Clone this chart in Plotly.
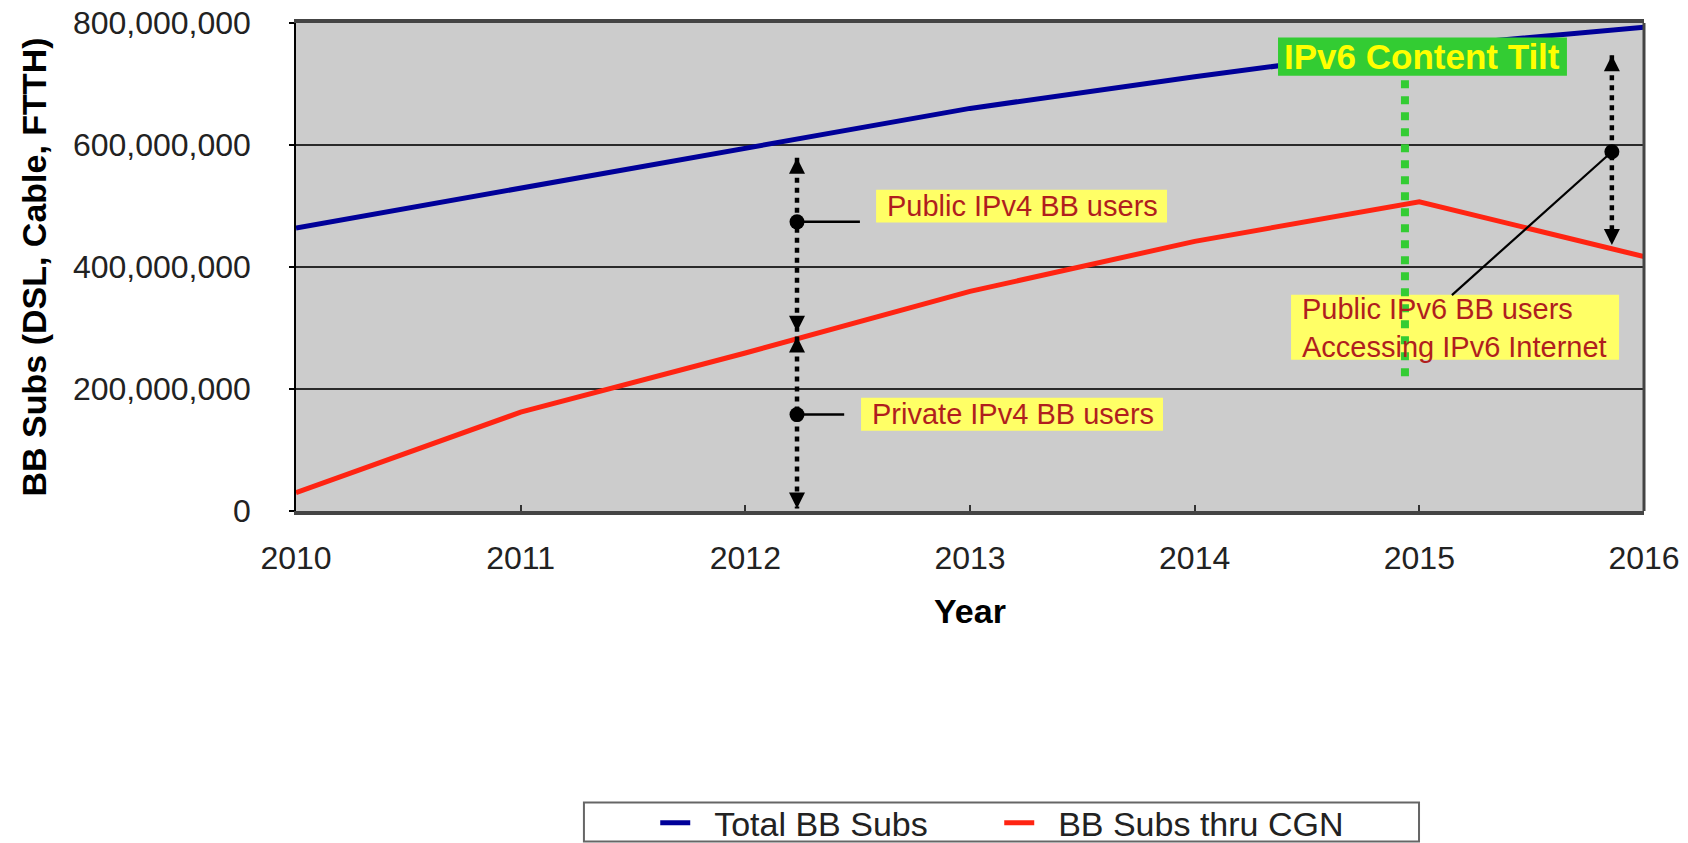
import plotly.graph_objects as go

# ---------------- data ----------------
years = [2010, 2011, 2012, 2013, 2014, 2015, 2016]
total_bb_subs = [464e6, 530e6, 596e6, 660e6, 712e6, 760e6, 793e6]
cgn_bb_subs = [30e6, 162e6, 259e6, 360e6, 442e6, 507e6, 417e6]
series_names = ["Total BB Subs", "BB Subs thru CGN"]

y_ticks = [0, 200e6, 400e6, 600e6, 800e6]
x_ticks = years

# annotation anchors (data units)
ipv4_arrow_x = 2012.23
ipv4_public_span = [579e6, 294e6]
ipv4_private_span = [286e6, 4e6]
ipv4_dot_y = [474e6, 158e6]
ipv4_leader_end_x = [2012.51, 2012.44]

public_ipv4_box = [2012.582, 2013.877, 472.8e6, 526.5e6]
private_ipv4_box = [2012.515, 2013.859, 131.7e6, 185.7e6]
public_ipv4_text = [2012.622, 499.6e6]
private_ipv4_text = [2012.555, 158.7e6]

tilt_x = 2014.936
tilt_span = [706e6, 210e6]
tilt_box = [2014.371, 2015.657, 713.6e6, 776.4e6]
tilt_text = [2015.014, 745e6]

ipv6_arrow_x = 2015.857
ipv6_span = [747e6, 436e6]
ipv6_dot_y = 589e6
ipv6_leader_end = [2015.145, 354e6]
ipv6_box = [2014.429, 2015.889, 248.0e6, 354.4e6]
ipv6_text = [2014.469, 300.5e6]

BLUE = "#000099"
RED = "#FF2412"
YELLOW = "#FFFF66"
GREEN = "#33CC33"
LABEL_RED = "#B01E1E"
FONT = "Liberation Sans, Arial, sans-serif"
PAD = "\u00a0\u00a0"

fig = go.Figure()

fig.add_trace(go.Scatter(x=years, y=total_bb_subs, mode="lines", name=PAD + series_names[0],
                         line=dict(color=BLUE, width=5)))
fig.add_trace(go.Scatter(x=years, y=cgn_bb_subs, mode="lines", name=PAD + series_names[1],
                         line=dict(color=RED, width=5)))

# leader dots
fig.add_trace(go.Scatter(x=[ipv4_arrow_x, ipv4_arrow_x, ipv6_arrow_x],
                         y=[ipv4_dot_y[0], ipv4_dot_y[1], ipv6_dot_y],
                         mode="markers", marker=dict(color="black", size=15),
                         showlegend=False, hoverinfo="skip", cliponaxis=False))

shapes = []
def box(b, color):
    shapes.append(dict(type="rect", xref="x", yref="y", x0=b[0], x1=b[1], y0=b[2], y1=b[3],
                       fillcolor=color, line=dict(width=0), layer="above"))

def dline(x0, y0, x1, y1, color="black", width=4.5, dash="5px,5px"):
    shapes.append(dict(type="line", xref="x", yref="y", x0=x0, x1=x1, y0=y0, y1=y1,
                       line=dict(color=color, width=width, dash=dash), layer="above"))

box(public_ipv4_box, YELLOW)
box(private_ipv4_box, YELLOW)
box(tilt_box, GREEN)
box(ipv6_box, YELLOW)

# dotted arrows
dline(ipv4_arrow_x, ipv4_public_span[0], ipv4_arrow_x, ipv4_public_span[1])
dline(ipv4_arrow_x, ipv4_private_span[0], ipv4_arrow_x, ipv4_private_span[1])
dline(ipv6_arrow_x, ipv6_span[0], ipv6_arrow_x, ipv6_span[1])
# leaders
dline(ipv4_arrow_x, ipv4_dot_y[0], ipv4_leader_end_x[0], ipv4_dot_y[0], width=2.5, dash="solid")
dline(ipv4_arrow_x, ipv4_dot_y[1], ipv4_leader_end_x[1], ipv4_dot_y[1], width=2.5, dash="solid")
dline(ipv6_arrow_x, ipv6_dot_y, ipv6_leader_end[0], ipv6_leader_end[1], width=2.2, dash="solid")
# green tilt line
dline(tilt_x, tilt_span[0], tilt_x, tilt_span[1], color=GREEN, width=8, dash="8px,8px")

# right border and legend box
shapes.append(dict(type="line", xref="paper", yref="paper", x0=1, x1=1, y0=0, y1=1,
                   line=dict(color="#444444", width=3), layer="above"))
shapes.append(dict(type="rect", xref="paper", yref="paper", x0=0.2136, x1=0.8331,
                   y0=-0.6775, y1=-0.5975, fillcolor="white",
                   line=dict(color="#666666", width=2), layer="below"))

annotations = []
def arrowhead(x, y, up):
    annotations.append(dict(x=x, y=y, xref="x", yref="y", text="", showarrow=True,
                            ax=0, ay=(15 if up else -15), arrowhead=2, arrowsize=0.8,
                            arrowwidth=4, arrowcolor="black", standoff=0))

arrowhead(ipv4_arrow_x, ipv4_public_span[0], True)
arrowhead(ipv4_arrow_x, ipv4_public_span[1], False)
arrowhead(ipv4_arrow_x, ipv4_private_span[0], True)
arrowhead(ipv4_arrow_x, ipv4_private_span[1], False)
arrowhead(ipv6_arrow_x, ipv6_span[0], True)
arrowhead(ipv6_arrow_x, ipv6_span[1], False)

lab_font = dict(family=FONT, size=29, color=LABEL_RED)
annotations.append(dict(x=public_ipv4_text[0], y=public_ipv4_text[1], text="Public IPv4 BB users",
                        showarrow=False, xanchor="left", yanchor="middle", font=lab_font))
annotations.append(dict(x=private_ipv4_text[0], y=private_ipv4_text[1], text="Private IPv4 BB users",
                        showarrow=False, xanchor="left", yanchor="middle", font=lab_font))
annotations.append(dict(x=ipv6_text[0], y=ipv6_text[1],
                        text="Public IPv6 BB users<br>Accessing IPv6 Internet",
                        showarrow=False, xanchor="left", yanchor="middle", align="left", font=lab_font))
annotations.append(dict(x=tilt_text[0], y=tilt_text[1], text="<b>IPv6 Content Tilt</b>",
                        showarrow=False, xanchor="center", yanchor="middle",
                        font=dict(family=FONT, size=35, color="#FFFF00")))

fig.update_layout(
    width=1688, height=843,
    margin=dict(l=296, r=44, t=23, b=332, autoexpand=False),
    paper_bgcolor="white", plot_bgcolor="#CCCCCC",
    font=dict(family=FONT, color="#222222"),
    shapes=shapes, annotations=annotations,
    showlegend=True,
    legend=dict(orientation="h", x=0.2665, y=-0.580, xanchor="left", yanchor="top",
                bgcolor="rgba(0,0,0,0)", borderwidth=0,
                font=dict(family=FONT, size=34, color="#222222"),
                entrywidth=299, itemwidth=30),
    xaxis=dict(range=[2010, 2016], tickvals=x_ticks, ticktext=[str(y) for y in x_ticks],
               ticks="inside", ticklen=6, tickwidth=2, tickcolor="#333333",
               showline=True, linewidth=3.5, linecolor="#444444", mirror=True,
               showgrid=False, zeroline=False,
               tickfont=dict(family=FONT, size=32, color="#222222"),
               ticklabelstandoff=16,
               title=dict(text="<b>Year</b>", font=dict(family=FONT, size=34, color="black"),
                          standoff=25)),
    yaxis=dict(range=[0, 800e6], tickvals=y_ticks, tickformat=",.0f",
               ticks="outside", ticklen=5, tickwidth=1.5, tickcolor="black",
               showline=True, linewidth=1.5, linecolor="black",
               showgrid=True, gridcolor="#2a2a2a", gridwidth=1.5, zeroline=False,
               tickfont=dict(family=FONT, size=32, color="#222222"),
               ticklabelstandoff=32,
               title=dict(text="<b>BB Subs (DSL, Cable, FTTH)</b>",
                          font=dict(family=FONT, size=34, color="black"), standoff=16)),
)

fig.write_html("out.html", config={"displayModeBar": False},
               post_script="document.body.style.margin='0';document.body.style.overflow='hidden';")
